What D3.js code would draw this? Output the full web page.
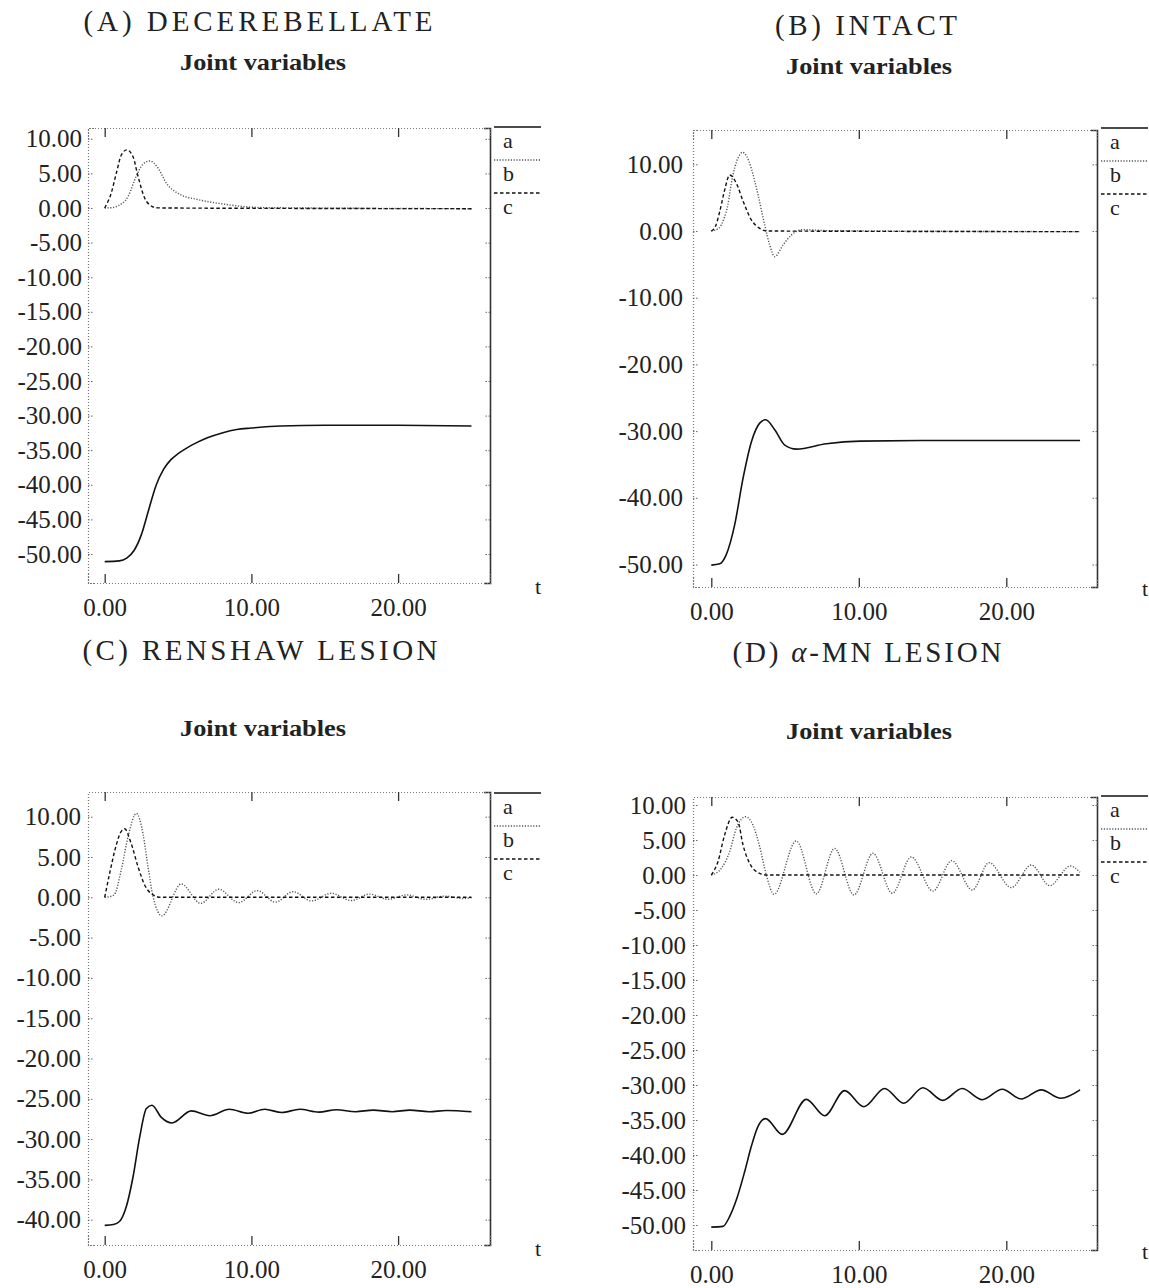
<!DOCTYPE html>
<html lang="en">
<head>
<meta charset="UTF-8">
<title>Joint variables</title>
<style>
  body { margin: 0; background: #fff; }
  svg text { font-family: "Liberation Serif", "DejaVu Serif", serif; fill: #222; }
</style>
</head>
<body>
<svg id="chart" width="1149" height="1288"></svg>
<script src="https://d3js.org/d3.v7.min.js"></script>
<script>
// ---- data: [t, value] ----
// (A) decerebellate
const decA = [[0,-51.1],[1,-51.0],[1.5,-50.6],[2,-49.5],[2.5,-47.2],[3,-43.6],[3.5,-40.1],[4,-37.8],[4.5,-36.4],[5,-35.5],[5.5,-34.8],[6,-34.2],[7,-33.2],[8,-32.5],[9,-32.0],[10,-31.8],[12,-31.5],[15,-31.4],[20,-31.4],[25,-31.5]];
const decB = [[0,0],[0.5,0.05],[0.9,0.3],[1.6,1.7],[2.15,4.6],[2.6,6.3],[3.07,6.8],[3.63,5.8],[4.2,3.6],[5,2.1],[6.4,1.2],[8,0.6],[9.5,0.2],[11,0.05],[25,-0.1]];
const decC = [[0,0],[0.45,2.2],[0.8,5.1],[1.14,7.7],[1.5,8.4],[1.93,7.4],[2.27,4.6],[2.73,1.4],[3.1,0.4],[3.5,0.05],[4,0],[25,-0.1]];
// (B) intact
const intA = [[0,-50.1],[0.57,-49.9],[1.0,-48.6],[1.58,-44.1],[2.15,-37.1],[2.72,-31.6],[3.28,-28.8],[3.69,-28.3],[4.3,-29.8],[4.98,-32.1],[5.77,-32.7],[7.8,-31.9],[10.1,-31.5],[15,-31.4],[25,-31.4]];
const intB = [[0,0],[0.5,0.4],[0.85,1.8],[1.13,4.0],[1.36,7.2],[1.6,9.6],[1.85,11.1],[2.1,11.8],[2.4,11.2],[2.71,9.4],[3.17,5.4],[3.62,0.9],[3.96,-2.1],[4.3,-3.85],[4.86,-2.1],[5.43,-0.6],[6.2,0.2],[8,0.05],[25,-0.1]];
const intC = [[0,0],[0.3,0.8],[0.57,2.9],[0.9,6.1],[1.25,8.4],[1.7,7.15],[2.15,4.5],[2.72,1.65],[3.28,0.4],[3.8,0],[25,-0.1]];
// (C) renshaw lesion
const renA = [[0,-40.7],[0.6,-40.6],[1.02,-40.2],[1.47,-38.4],[1.93,-34.7],[2.39,-29.7],[2.84,-26.2],[3.22,-25.8],[3.86,-27.3],[4.59,-28.0],[5.9,-26.5],[7.16,-27.1],[8.5,-26.3],[9.77,-26.8],[10.9,-26.3],[12.07,-26.7],[13.3,-26.3],[14.6,-26.65],[15.8,-26.35],[17.1,-26.6],[18.3,-26.4],[19.6,-26.6],[20.8,-26.4],[22.1,-26.6],[23.3,-26.45],[25,-26.6]];
const renB = [[0,0],[0.4,0.1],[0.68,0.4],[1.13,3.4],[1.59,7.5],[2.16,10.4],[2.61,7.9],[2.95,3.8],[3.3,0.07],[3.9,-2.3],[5.22,1.65],[6.54,-0.75],[7.77,1.0],[9.13,-0.66],[10.4,0.83],[11.64,-0.6],[12.84,0.7],[14.1,-0.45],[15.45,0.5],[16.8,-0.4],[18.07,0.4],[19.3,-0.25],[20.6,0.3],[21.9,-0.25],[23.2,0.15],[24.4,-0.15],[25,-0.05]];
const renC = [[0,0],[0.34,3.0],[0.79,6.5],[1.1,8.1],[1.36,8.5],[1.8,6.7],[2.27,3.8],[2.73,1.5],[3.3,0.3],[3.8,0],[25,0]];
// (D) alpha-MN lesion
const mnA = [[0,-50.3],[0.79,-50.2],[1.24,-48.8],[1.7,-46.4],[2.26,-42.4],[2.71,-38.8],[3.16,-35.95],[3.68,-34.8],[4.81,-37.05],[6.44,-32.05],[7.69,-34.4],[9.04,-30.8],[10.35,-33.1],[11.75,-30.5],[13.04,-32.6],[14.35,-30.4],[15.7,-32.2],[17.0,-30.5],[18.37,-32.1],[19.73,-30.6],[21.0,-32.0],[22.37,-30.7],[23.7,-31.9],[25,-30.7]];
const mnB = [[0,0],[0.68,0.95],[1.24,3.3],[1.7,6.67],[2.33,8.33],[2.83,7.1],[3.28,4.05],[3.73,0],[4.25,-2.76],[5.76,4.86],[7.12,-2.7],[8.36,3.8],[9.67,-2.86],[10.96,3.1],[12.27,-2.6],[13.56,2.57],[15.03,-2.3],[16.3,2.05],[17.7,-2.14],[18.83,1.76],[20.34,-1.8],[21.7,1.43],[22.94,-1.52],[24.35,1.29],[25,0.4]];
const mnC = [[0,0],[0.45,1.9],[0.9,5.7],[1.42,8.24],[1.81,7.6],[2.15,4.3],[2.6,1.67],[3.28,0.24],[3.8,0],[25,0]];

// title text: plain parts and an italic (math) part
const titles = [["(A) DECEREBELLATE"], ["(B) INTACT"], ["(C) RENSHAW LESION"], ["(D) ", "\u03B1", "-MN LESION"]];
const subtitle = "Joint variables";
const seriesNames = ["a", "b", "c"];
const xTicks = [0, 10, 20];
const yTicksA = d3.range(10, -51, -5);
const yTicksB = d3.range(10, -51, -10);
const yTicksC = d3.range(10, -41, -5);
const yTicksD = d3.range(10, -51, -5);

// ---- layout per panel (pixels) ----
const panels = [
  { title: titles[0], series: [decA, decB, decC], yTicks: yTicksA,
    box: [88, 128, 490, 583], x0: 104.7, xk: 14.67, y0: 208, yk: 6.92,
    titleY: 31, titleW: 349, titleX: 258, subX: 263, subY: 70, legTop: 127, pad: 6, tY: 594 },
  { title: titles[1], series: [intA, intB, intC], yTicks: yTicksB,
    box: [693, 130, 1097, 587], x0: 711.3, xk: 14.75, y0: 231, yk: 6.67,
    titleY: 35, titleW: 182, titleX: 866, subX: 869, subY: 74, legTop: 128, pad: 10, tY: 596 },
  { title: titles[2], series: [renA, renB, renC], yTicks: yTicksC,
    box: [88, 792, 490, 1245], x0: 104.7, xk: 14.67, y0: 897.3, yk: 8.06,
    titleY: 660, titleW: 355, titleX: 260, subX: 263, subY: 736, legTop: 793, pad: 7, tY: 1256 },
  { title: titles[3], series: [mnA, mnB, mnC], yTicks: yTicksD,
    box: [693, 797, 1097, 1250], x0: 711.3, xk: 14.75, y0: 875, yk: 7.0,
    titleY: 662, titleW: 269, titleX: 867, subX: 869, subY: 739, legTop: 796, pad: 7, tY: 1259 }
];

const styles = [
  { stroke: "#111", width: 1.6, dash: null },
  { stroke: "#555", width: 1.4, dash: "1.2,1.6" },
  { stroke: "#111", width: 1.4, dash: "3.5,2.5" }
];

const svg = d3.select("#chart");

panels.forEach(p => {
  const [L, T, R, B] = p.box;
  const x = d3.scaleLinear().domain([(L - p.x0) / p.xk, (R - p.x0) / p.xk]).range([L, R]);
  const y = d3.scaleLinear().domain([(p.y0 - B) / p.yk, (p.y0 - T) / p.yk]).range([B, T]);
  const g = svg.append("g");

  // titles
  const tt = g.append("text")
    .attr("x", p.titleX).attr("y", p.titleY)
    .attr("text-anchor", "middle")
    .attr("font-size", 29)
    .attr("textLength", p.titleW).attr("lengthAdjust", "spacing");
  p.title.forEach((part, i) => {
    tt.append("tspan").attr("font-style", i === 1 ? "italic" : null).text(part);
  });
  g.append("text")
    .attr("x", p.subX).attr("y", p.subY)
    .attr("text-anchor", "middle")
    .attr("font-size", 24).attr("font-weight", "bold")
    .attr("textLength", 166).attr("lengthAdjust", "spacingAndGlyphs")
    .text(subtitle);

  // axes
  const fmt = d => d.toFixed(2);
  const left = g.append("g").attr("transform", `translate(${L},0)`)
    .call(d3.axisLeft(y).tickValues(p.yTicks).tickFormat(fmt).tickSize(-6).tickPadding(p.pad));
  const right = g.append("g").attr("transform", `translate(${R},0)`)
    .call(d3.axisRight(y).tickValues(p.yTicks).tickFormat("").tickSize(-6));
  const top = g.append("g").attr("transform", `translate(0,${T})`)
    .call(d3.axisTop(x).tickValues(xTicks).tickFormat("").tickSize(-9));
  const bottom = g.append("g").attr("transform", `translate(0,${B})`)
    .call(d3.axisBottom(x).tickValues(xTicks).tickFormat(fmt).tickSize(-9).tickPadding(15));

  [left, top, bottom].forEach(a => {
    a.select(".domain").attr("stroke", "#777").attr("stroke-width", 1.2).attr("stroke-dasharray", "1,2");
  });
  right.select(".domain").attr("stroke", "#333").attr("stroke-width", 1.6);
  [left, right].forEach(a => a.selectAll(".tick line").attr("stroke", "#666").attr("stroke-dasharray", "1.5,1.5"));
  [top, bottom].forEach(a => a.selectAll(".tick line").attr("stroke", "#333").attr("stroke-width", 1.3));
  [left, bottom].forEach(a => a.selectAll("text")
    .attr("font-family", "Liberation Serif, DejaVu Serif, serif")
    .attr("font-size", 25).attr("fill", "#222"));

  // t label
  g.append("text").attr("x", R + 45).attr("y", p.tY)
    .attr("font-size", 22).text("t");

  // curves
  const line = d3.line().x(d => x(d[0])).y(d => y(d[1])).curve(d3.curveMonotoneX);
  p.series.forEach((s, i) => {
    g.append("path").datum(s)
      .attr("d", line)
      .attr("fill", "none")
      .attr("stroke", styles[i].stroke)
      .attr("stroke-width", styles[i].width)
      .attr("stroke-dasharray", styles[i].dash);
  });

  // legend
  seriesNames.forEach((n, i) => {
    const ly = p.legTop + i * 33;
    g.append("line")
      .attr("x1", R + 4).attr("x2", R + 51)
      .attr("y1", ly).attr("y2", ly)
      .attr("stroke", styles[i].stroke)
      .attr("stroke-width", styles[i].width)
      .attr("stroke-dasharray", styles[i].dash);
    g.append("text").attr("x", R + 13).attr("y", ly + 21)
      .attr("font-size", 22).text(n);
  });
});
</script>
</body>
</html>
